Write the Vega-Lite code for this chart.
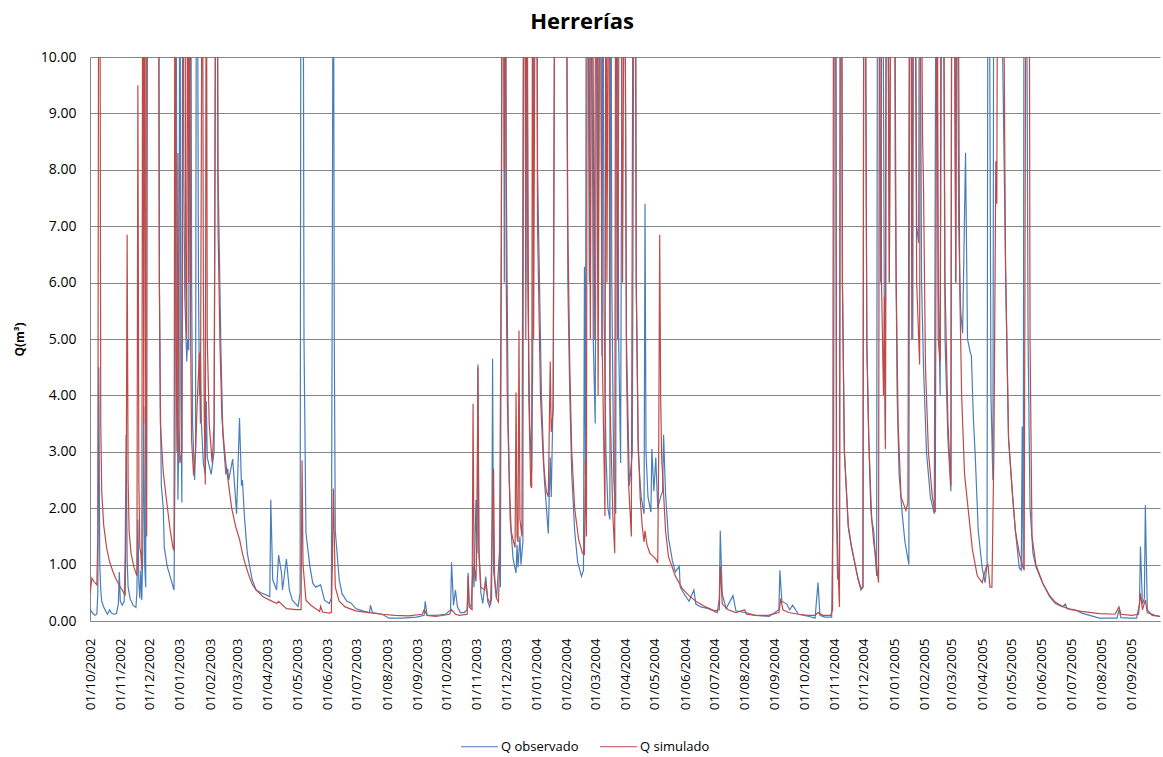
{
"$schema": "https://vega.github.io/schema/vega-lite/v6.json",
"width": 1070, "height": 564,
"autosize": {"type": "none"},
"padding": {"left": 90, "top": 57, "right": 3, "bottom": 136},
"background": "white",
"config": {"view": {"stroke": null}, "font": "Open Sans"},
"title": {"text": "Herrerías", "fontSize": 22, "fontWeight": "bold", "font": "Open Sans", "color": "#000", "offset": 16, "dx": -43, "anchor": "middle"},
"data": {"values": [
{"d":"2002-10-01","s":"Q observado","q":0.22},{"d":"2002-10-03","s":"Q observado","q":0.15},{"d":"2002-10-06","s":"Q observado","q":0.1},{"d":"2002-10-08","s":"Q observado","q":0.12},{"d":"2002-10-09","s":"Q observado","q":0.5},{"d":"2002-10-10","s":"Q observado","q":4.5},{"d":"2002-10-11","s":"Q observado","q":1.0},{"d":"2002-10-12","s":"Q observado","q":0.55},{"d":"2002-10-13","s":"Q observado","q":0.35},{"d":"2002-10-15","s":"Q observado","q":0.25},{"d":"2002-10-17","s":"Q observado","q":0.18},{"d":"2002-10-19","s":"Q observado","q":0.12},{"d":"2002-10-21","s":"Q observado","q":0.2},{"d":"2002-10-23","s":"Q observado","q":0.14},{"d":"2002-10-25","s":"Q observado","q":0.12},{"d":"2002-10-28","s":"Q observado","q":0.13},{"d":"2002-10-30","s":"Q observado","q":0.3},{"d":"2002-10-31","s":"Q observado","q":0.87},{"d":"2002-11-01","s":"Q observado","q":0.35},{"d":"2002-11-03","s":"Q observado","q":0.28},{"d":"2002-11-05","s":"Q observado","q":0.35},{"d":"2002-11-06","s":"Q observado","q":1.2},{"d":"2002-11-07","s":"Q observado","q":3.3},{"d":"2002-11-08","s":"Q observado","q":1.1},{"d":"2002-11-09","s":"Q observado","q":0.6},{"d":"2002-11-11","s":"Q observado","q":0.4},{"d":"2002-11-14","s":"Q observado","q":0.28},{"d":"2002-11-17","s":"Q observado","q":0.24},{"d":"2002-11-18","s":"Q observado","q":0.5},{"d":"2002-11-19","s":"Q observado","q":1.8},{"d":"2002-11-20","s":"Q observado","q":0.7},{"d":"2002-11-21","s":"Q observado","q":0.4},{"d":"2002-11-22","s":"Q observado","q":0.9},{"d":"2002-11-23","s":"Q observado","q":0.37},{"d":"2002-11-24","s":"Q observado","q":1.2},{"d":"2002-11-25","s":"Q observado","q":3.8},{"d":"2002-11-26","s":"Q observado","q":1.0},{"d":"2002-11-27","s":"Q observado","q":0.6},{"d":"2002-11-28","s":"Q observado","q":14},{"d":"2002-11-29","s":"Q observado","q":14},{"d":"2002-11-30","s":"Q observado","q":12},{"d":"2002-12-02","s":"Q observado","q":11},{"d":"2002-12-04","s":"Q observado","q":11},{"d":"2002-12-06","s":"Q observado","q":11.5},{"d":"2002-12-08","s":"Q observado","q":14},{"d":"2002-12-09","s":"Q observado","q":14},{"d":"2002-12-10","s":"Q observado","q":14},{"d":"2002-12-11","s":"Q observado","q":6},{"d":"2002-12-12","s":"Q observado","q":4},{"d":"2002-12-13","s":"Q observado","q":2.4},{"d":"2002-12-15","s":"Q observado","q":2.0},{"d":"2002-12-16","s":"Q observado","q":1.3},{"d":"2002-12-17","s":"Q observado","q":1.2},{"d":"2002-12-19","s":"Q observado","q":0.97},{"d":"2002-12-23","s":"Q observado","q":0.73},{"d":"2002-12-26","s":"Q observado","q":0.55},{"d":"2002-12-27","s":"Q observado","q":3},{"d":"2002-12-28","s":"Q observado","q":14},{"d":"2002-12-29","s":"Q observado","q":5},{"d":"2002-12-30","s":"Q observado","q":2.15},{"d":"2002-12-31","s":"Q observado","q":3.5},{"d":"2003-01-01","s":"Q observado","q":14},{"d":"2003-01-02","s":"Q observado","q":4},{"d":"2003-01-03","s":"Q observado","q":2.1},{"d":"2003-01-04","s":"Q observado","q":14},{"d":"2003-01-05","s":"Q observado","q":8},{"d":"2003-01-06","s":"Q observado","q":5.75},{"d":"2003-01-07","s":"Q observado","q":5.2},{"d":"2003-01-08","s":"Q observado","q":4.6},{"d":"2003-01-09","s":"Q observado","q":5.0},{"d":"2003-01-10","s":"Q observado","q":4.8},{"d":"2003-01-12","s":"Q observado","q":14},{"d":"2003-01-13","s":"Q observado","q":6},{"d":"2003-01-14","s":"Q observado","q":3.5},{"d":"2003-01-16","s":"Q observado","q":2.5},{"d":"2003-01-17","s":"Q observado","q":3},{"d":"2003-01-18","s":"Q observado","q":14},{"d":"2003-01-19","s":"Q observado","q":12},{"d":"2003-01-20","s":"Q observado","q":6},{"d":"2003-01-21","s":"Q observado","q":4},{"d":"2003-01-22","s":"Q observado","q":4.77},{"d":"2003-01-23","s":"Q observado","q":3.5},{"d":"2003-01-25","s":"Q observado","q":2.8},{"d":"2003-01-27","s":"Q observado","q":2.6},{"d":"2003-01-28","s":"Q observado","q":3.9},{"d":"2003-01-29","s":"Q observado","q":2.9},{"d":"2003-02-02","s":"Q observado","q":2.6},{"d":"2003-02-05","s":"Q observado","q":3.0},{"d":"2003-02-07","s":"Q observado","q":14},{"d":"2003-02-08","s":"Q observado","q":14},{"d":"2003-02-09","s":"Q observado","q":8},{"d":"2003-02-12","s":"Q observado","q":4.8},{"d":"2003-02-14","s":"Q observado","q":3.3},{"d":"2003-02-17","s":"Q observado","q":2.6},{"d":"2003-02-19","s":"Q observado","q":2.7},{"d":"2003-02-20","s":"Q observado","q":2.5},{"d":"2003-02-24","s":"Q observado","q":2.87},{"d":"2003-02-26","s":"Q observado","q":2.4},{"d":"2003-02-28","s":"Q observado","q":1.9},{"d":"2003-03-03","s":"Q observado","q":3.6},{"d":"2003-03-05","s":"Q observado","q":2.4},{"d":"2003-03-06","s":"Q observado","q":2.5},{"d":"2003-03-08","s":"Q observado","q":1.86},{"d":"2003-03-11","s":"Q observado","q":1.2},{"d":"2003-03-16","s":"Q observado","q":0.73},{"d":"2003-03-20","s":"Q observado","q":0.55},{"d":"2003-03-25","s":"Q observado","q":0.5},{"d":"2003-04-01","s":"Q observado","q":0.45},{"d":"2003-04-03","s":"Q observado","q":0.43},{"d":"2003-04-04","s":"Q observado","q":2.15},{"d":"2003-04-06","s":"Q observado","q":0.73},{"d":"2003-04-10","s":"Q observado","q":0.55},{"d":"2003-04-12","s":"Q observado","q":1.17},{"d":"2003-04-15","s":"Q observado","q":0.85},{"d":"2003-04-16","s":"Q observado","q":0.55},{"d":"2003-04-20","s":"Q observado","q":1.1},{"d":"2003-04-23","s":"Q observado","q":0.55},{"d":"2003-04-26","s":"Q observado","q":0.37},{"d":"2003-05-02","s":"Q observado","q":0.26},{"d":"2003-05-04","s":"Q observado","q":0.5},{"d":"2003-05-05","s":"Q observado","q":14},{"d":"2003-05-06","s":"Q observado","q":14},{"d":"2003-05-07","s":"Q observado","q":14},{"d":"2003-05-08","s":"Q observado","q":5},{"d":"2003-05-10","s":"Q observado","q":1.56},{"d":"2003-05-14","s":"Q observado","q":0.97},{"d":"2003-05-17","s":"Q observado","q":0.67},{"d":"2003-05-20","s":"Q observado","q":0.6},{"d":"2003-05-25","s":"Q observado","q":0.64},{"d":"2003-05-29","s":"Q observado","q":0.37},{"d":"2003-06-03","s":"Q observado","q":0.31},{"d":"2003-06-05","s":"Q observado","q":0.41},{"d":"2003-06-06","s":"Q observado","q":6.7},{"d":"2003-06-07","s":"Q observado","q":14},{"d":"2003-06-08","s":"Q observado","q":5},{"d":"2003-06-09","s":"Q observado","q":1.6},{"d":"2003-06-13","s":"Q observado","q":0.74},{"d":"2003-06-16","s":"Q observado","q":0.48},{"d":"2003-06-21","s":"Q observado","q":0.35},{"d":"2003-06-25","s":"Q observado","q":0.32},{"d":"2003-06-30","s":"Q observado","q":0.22},{"d":"2003-07-07","s":"Q observado","q":0.18},{"d":"2003-07-14","s":"Q observado","q":0.15},{"d":"2003-07-15","s":"Q observado","q":0.28},{"d":"2003-07-17","s":"Q observado","q":0.15},{"d":"2003-07-27","s":"Q observado","q":0.12},{"d":"2003-08-03","s":"Q observado","q":0.05},{"d":"2003-08-17","s":"Q observado","q":0.05},{"d":"2003-08-31","s":"Q observado","q":0.07},{"d":"2003-09-08","s":"Q observado","q":0.1},{"d":"2003-09-09","s":"Q observado","q":0.35},{"d":"2003-09-11","s":"Q observado","q":0.1},{"d":"2003-09-20","s":"Q observado","q":0.1},{"d":"2003-09-30","s":"Q observado","q":0.12},{"d":"2003-10-05","s":"Q observado","q":0.2},{"d":"2003-10-06","s":"Q observado","q":1.04},{"d":"2003-10-08","s":"Q observado","q":0.28},{"d":"2003-10-10","s":"Q observado","q":0.55},{"d":"2003-10-12","s":"Q observado","q":0.25},{"d":"2003-10-15","s":"Q observado","q":0.15},{"d":"2003-10-19","s":"Q observado","q":0.15},{"d":"2003-10-22","s":"Q observado","q":0.2},{"d":"2003-10-23","s":"Q observado","q":0.85},{"d":"2003-10-24","s":"Q observado","q":0.3},{"d":"2003-10-26","s":"Q observado","q":0.25},{"d":"2003-10-28","s":"Q observado","q":1.0},{"d":"2003-10-29","s":"Q observado","q":0.6},{"d":"2003-10-31","s":"Q observado","q":2.15},{"d":"2003-11-01","s":"Q observado","q":1.2},{"d":"2003-11-02","s":"Q observado","q":4.55},{"d":"2003-11-03","s":"Q observado","q":1.3},{"d":"2003-11-05","s":"Q observado","q":0.5},{"d":"2003-11-07","s":"Q observado","q":0.31},{"d":"2003-11-10","s":"Q observado","q":0.79},{"d":"2003-11-12","s":"Q observado","q":0.35},{"d":"2003-11-14","s":"Q observado","q":0.25},{"d":"2003-11-16","s":"Q observado","q":0.4},{"d":"2003-11-17","s":"Q observado","q":4.65},{"d":"2003-11-18","s":"Q observado","q":0.9},{"d":"2003-11-20","s":"Q observado","q":0.55},{"d":"2003-11-21","s":"Q observado","q":0.4},{"d":"2003-11-24","s":"Q observado","q":1.2},{"d":"2003-11-25","s":"Q observado","q":0.6},{"d":"2003-11-27","s":"Q observado","q":14},{"d":"2003-11-28","s":"Q observado","q":14},{"d":"2003-11-29","s":"Q observado","q":6},{"d":"2003-11-30","s":"Q observado","q":14},{"d":"2003-12-01","s":"Q observado","q":8},{"d":"2003-12-03","s":"Q observado","q":3.5},{"d":"2003-12-05","s":"Q observado","q":1.8},{"d":"2003-12-08","s":"Q observado","q":1.1},{"d":"2003-12-11","s":"Q observado","q":0.85},{"d":"2003-12-12","s":"Q observado","q":1.35},{"d":"2003-12-13","s":"Q observado","q":0.95},{"d":"2003-12-15","s":"Q observado","q":1.5},{"d":"2003-12-16","s":"Q observado","q":1.0},{"d":"2003-12-18","s":"Q observado","q":1.4},{"d":"2003-12-19","s":"Q observado","q":14},{"d":"2003-12-20","s":"Q observado","q":14},{"d":"2003-12-21","s":"Q observado","q":6},{"d":"2003-12-22","s":"Q observado","q":14},{"d":"2003-12-23","s":"Q observado","q":6},{"d":"2003-12-25","s":"Q observado","q":3.5},{"d":"2003-12-27","s":"Q observado","q":2.63},{"d":"2003-12-28","s":"Q observado","q":4.5},{"d":"2003-12-30","s":"Q observado","q":14},{"d":"2003-12-31","s":"Q observado","q":14},{"d":"2004-01-01","s":"Q observado","q":14},{"d":"2004-01-02","s":"Q observado","q":8},{"d":"2004-01-06","s":"Q observado","q":4},{"d":"2004-01-09","s":"Q observado","q":2.5},{"d":"2004-01-13","s":"Q observado","q":1.55},{"d":"2004-01-15","s":"Q observado","q":2.9},{"d":"2004-01-16","s":"Q observado","q":2.2},{"d":"2004-01-18","s":"Q observado","q":4.0},{"d":"2004-01-20","s":"Q observado","q":14},{"d":"2004-01-21","s":"Q observado","q":14},{"d":"2004-01-23","s":"Q observado","q":12},{"d":"2004-01-25","s":"Q observado","q":11},{"d":"2004-01-27","s":"Q observado","q":12},{"d":"2004-01-29","s":"Q observado","q":14},{"d":"2004-01-30","s":"Q observado","q":14},{"d":"2004-01-31","s":"Q observado","q":14},{"d":"2004-02-02","s":"Q observado","q":6},{"d":"2004-02-04","s":"Q observado","q":4.0},{"d":"2004-02-06","s":"Q observado","q":2.6},{"d":"2004-02-09","s":"Q observado","q":1.6},{"d":"2004-02-12","s":"Q observado","q":1.05},{"d":"2004-02-16","s":"Q observado","q":0.79},{"d":"2004-02-18","s":"Q observado","q":0.9},{"d":"2004-02-19","s":"Q observado","q":6.28},{"d":"2004-02-20","s":"Q observado","q":2.6},{"d":"2004-02-21","s":"Q observado","q":14},{"d":"2004-02-22","s":"Q observado","q":14},{"d":"2004-02-24","s":"Q observado","q":6},{"d":"2004-02-26","s":"Q observado","q":14},{"d":"2004-02-28","s":"Q observado","q":5},{"d":"2004-03-01","s":"Q observado","q":3.5},{"d":"2004-03-03","s":"Q observado","q":14},{"d":"2004-03-04","s":"Q observado","q":6},{"d":"2004-03-06","s":"Q observado","q":14},{"d":"2004-03-07","s":"Q observado","q":9.95},{"d":"2004-03-08","s":"Q observado","q":4.7},{"d":"2004-03-09","s":"Q observado","q":14},{"d":"2004-03-10","s":"Q observado","q":5.55},{"d":"2004-03-12","s":"Q observado","q":3.0},{"d":"2004-03-14","s":"Q observado","q":2.0},{"d":"2004-03-16","s":"Q observado","q":1.8},{"d":"2004-03-17","s":"Q observado","q":14},{"d":"2004-03-18","s":"Q observado","q":6},{"d":"2004-03-20","s":"Q observado","q":2.5},{"d":"2004-03-22","s":"Q observado","q":1.9},{"d":"2004-03-23","s":"Q observado","q":14},{"d":"2004-03-25","s":"Q observado","q":5},{"d":"2004-03-27","s":"Q observado","q":2.8},{"d":"2004-03-29","s":"Q observado","q":14},{"d":"2004-03-31","s":"Q observado","q":14},{"d":"2004-04-02","s":"Q observado","q":5},{"d":"2004-04-05","s":"Q observado","q":2.4},{"d":"2004-04-08","s":"Q observado","q":3},{"d":"2004-04-10","s":"Q observado","q":14},{"d":"2004-04-11","s":"Q observado","q":14},{"d":"2004-04-12","s":"Q observado","q":6},{"d":"2004-04-14","s":"Q observado","q":3.0},{"d":"2004-04-17","s":"Q observado","q":2.2},{"d":"2004-04-20","s":"Q observado","q":1.9},{"d":"2004-04-21","s":"Q observado","q":7.4},{"d":"2004-04-22","s":"Q observado","q":3.0},{"d":"2004-04-24","s":"Q observado","q":2.2},{"d":"2004-04-27","s":"Q observado","q":1.93},{"d":"2004-04-28","s":"Q observado","q":3.05},{"d":"2004-04-30","s":"Q observado","q":2.3},{"d":"2004-05-02","s":"Q observado","q":2.9},{"d":"2004-05-04","s":"Q observado","q":2.0},{"d":"2004-05-07","s":"Q observado","q":2.2},{"d":"2004-05-09","s":"Q observado","q":2.3},{"d":"2004-05-10","s":"Q observado","q":3.3},{"d":"2004-05-12","s":"Q observado","q":2.25},{"d":"2004-05-15","s":"Q observado","q":1.47},{"d":"2004-05-19","s":"Q observado","q":1.07},{"d":"2004-05-22","s":"Q observado","q":0.87},{"d":"2004-05-26","s":"Q observado","q":0.97},{"d":"2004-05-27","s":"Q observado","q":0.6},{"d":"2004-05-31","s":"Q observado","q":0.48},{"d":"2004-06-05","s":"Q observado","q":0.35},{"d":"2004-06-10","s":"Q observado","q":0.55},{"d":"2004-06-12","s":"Q observado","q":0.3},{"d":"2004-06-17","s":"Q observado","q":0.25},{"d":"2004-06-25","s":"Q observado","q":0.22},{"d":"2004-07-04","s":"Q observado","q":0.15},{"d":"2004-07-06","s":"Q observado","q":0.4},{"d":"2004-07-07","s":"Q observado","q":1.6},{"d":"2004-07-09","s":"Q observado","q":0.48},{"d":"2004-07-13","s":"Q observado","q":0.22},{"d":"2004-07-20","s":"Q observado","q":0.45},{"d":"2004-07-23","s":"Q observado","q":0.18},{"d":"2004-08-02","s":"Q observado","q":0.15},{"d":"2004-08-12","s":"Q observado","q":0.1},{"d":"2004-08-26","s":"Q observado","q":0.08},{"d":"2004-09-05","s":"Q observado","q":0.2},{"d":"2004-09-06","s":"Q observado","q":0.9},{"d":"2004-09-08","s":"Q observado","q":0.35},{"d":"2004-09-13","s":"Q observado","q":0.3},{"d":"2004-09-16","s":"Q observado","q":0.2},{"d":"2004-09-19","s":"Q observado","q":0.28},{"d":"2004-09-25","s":"Q observado","q":0.12},{"d":"2004-10-06","s":"Q observado","q":0.08},{"d":"2004-10-12","s":"Q observado","q":0.05},{"d":"2004-10-15","s":"Q observado","q":0.68},{"d":"2004-10-17","s":"Q observado","q":0.1},{"d":"2004-10-22","s":"Q observado","q":0.07},{"d":"2004-10-29","s":"Q observado","q":0.07},{"d":"2004-10-31","s":"Q observado","q":3},{"d":"2004-11-01","s":"Q observado","q":14},{"d":"2004-11-02","s":"Q observado","q":14},{"d":"2004-11-03","s":"Q observado","q":2},{"d":"2004-11-04","s":"Q observado","q":0.74},{"d":"2004-11-06","s":"Q observado","q":0.9},{"d":"2004-11-07","s":"Q observado","q":14},{"d":"2004-11-08","s":"Q observado","q":14},{"d":"2004-11-09","s":"Q observado","q":6},{"d":"2004-11-11","s":"Q observado","q":3},{"d":"2004-11-15","s":"Q observado","q":1.66},{"d":"2004-11-18","s":"Q observado","q":1.33},{"d":"2004-11-22","s":"Q observado","q":1.0},{"d":"2004-11-25","s":"Q observado","q":0.74},{"d":"2004-11-28","s":"Q observado","q":0.55},{"d":"2004-11-30","s":"Q observado","q":0.6},{"d":"2004-12-01","s":"Q observado","q":14},{"d":"2004-12-02","s":"Q observado","q":14},{"d":"2004-12-04","s":"Q observado","q":4.9},{"d":"2004-12-06","s":"Q observado","q":3.2},{"d":"2004-12-08","s":"Q observado","q":2.25},{"d":"2004-12-09","s":"Q observado","q":1.8},{"d":"2004-12-11","s":"Q observado","q":1.6},{"d":"2004-12-14","s":"Q observado","q":0.8},{"d":"2004-12-15","s":"Q observado","q":14},{"d":"2004-12-16","s":"Q observado","q":14},{"d":"2004-12-18","s":"Q observado","q":6},{"d":"2004-12-20","s":"Q observado","q":14},{"d":"2004-12-22","s":"Q observado","q":5},{"d":"2004-12-23","s":"Q observado","q":3.2},{"d":"2004-12-24","s":"Q observado","q":14},{"d":"2004-12-25","s":"Q observado","q":14},{"d":"2004-12-27","s":"Q observado","q":6},{"d":"2004-12-29","s":"Q observado","q":14},{"d":"2004-12-30","s":"Q observado","q":14},{"d":"2005-01-01","s":"Q observado","q":14},{"d":"2005-01-02","s":"Q observado","q":8},{"d":"2005-01-04","s":"Q observado","q":4},{"d":"2005-01-06","s":"Q observado","q":2.6},{"d":"2005-01-09","s":"Q observado","q":1.93},{"d":"2005-01-12","s":"Q observado","q":1.4},{"d":"2005-01-16","s":"Q observado","q":1.0},{"d":"2005-01-17","s":"Q observado","q":14},{"d":"2005-01-18","s":"Q observado","q":14},{"d":"2005-01-20","s":"Q observado","q":5},{"d":"2005-01-21","s":"Q observado","q":14},{"d":"2005-01-22","s":"Q observado","q":14},{"d":"2005-01-24","s":"Q observado","q":7},{"d":"2005-01-26","s":"Q observado","q":6.7},{"d":"2005-01-27","s":"Q observado","q":14},{"d":"2005-01-29","s":"Q observado","q":6},{"d":"2005-01-31","s":"Q observado","q":4.5},{"d":"2005-02-03","s":"Q observado","q":3.0},{"d":"2005-02-07","s":"Q observado","q":2.2},{"d":"2005-02-11","s":"Q observado","q":1.9},{"d":"2005-02-13","s":"Q observado","q":14},{"d":"2005-02-15","s":"Q observado","q":6},{"d":"2005-02-17","s":"Q observado","q":4},{"d":"2005-02-18","s":"Q observado","q":14},{"d":"2005-02-20","s":"Q observado","q":14},{"d":"2005-02-22","s":"Q observado","q":5},{"d":"2005-02-25","s":"Q observado","q":3.2},{"d":"2005-02-28","s":"Q observado","q":2.3},{"d":"2005-03-01","s":"Q observado","q":14},{"d":"2005-03-03","s":"Q observado","q":14},{"d":"2005-03-05","s":"Q observado","q":6},{"d":"2005-03-06","s":"Q observado","q":14},{"d":"2005-03-08","s":"Q observado","q":7},{"d":"2005-03-10","s":"Q observado","q":5.5},{"d":"2005-03-12","s":"Q observado","q":5.1},{"d":"2005-03-15","s":"Q observado","q":8.3},{"d":"2005-03-17","s":"Q observado","q":5},{"d":"2005-03-20","s":"Q observado","q":4.75},{"d":"2005-03-21","s":"Q observado","q":4.7},{"d":"2005-03-23","s":"Q observado","q":3.6},{"d":"2005-03-25","s":"Q observado","q":2.9},{"d":"2005-03-28","s":"Q observado","q":1.6},{"d":"2005-04-01","s":"Q observado","q":0.94},{"d":"2005-04-04","s":"Q observado","q":0.68},{"d":"2005-04-06","s":"Q observado","q":1.0},{"d":"2005-04-07","s":"Q observado","q":14},{"d":"2005-04-08","s":"Q observado","q":14},{"d":"2005-04-10","s":"Q observado","q":4},{"d":"2005-04-12","s":"Q observado","q":2.5},{"d":"2005-04-13","s":"Q observado","q":14},{"d":"2005-04-14","s":"Q observado","q":14},{"d":"2005-04-16","s":"Q observado","q":14},{"d":"2005-04-18","s":"Q observado","q":14},{"d":"2005-04-20","s":"Q observado","q":14},{"d":"2005-04-22","s":"Q observado","q":10},{"d":"2005-04-25","s":"Q observado","q":6.2},{"d":"2005-04-28","s":"Q observado","q":3.24},{"d":"2005-05-02","s":"Q observado","q":2.25},{"d":"2005-05-05","s":"Q observado","q":1.6},{"d":"2005-05-09","s":"Q observado","q":0.94},{"d":"2005-05-11","s":"Q observado","q":0.9},{"d":"2005-05-12","s":"Q observado","q":3.45},{"d":"2005-05-13","s":"Q observado","q":0.93},{"d":"2005-05-14","s":"Q observado","q":14},{"d":"2005-05-15","s":"Q observado","q":14},{"d":"2005-05-16","s":"Q observado","q":14},{"d":"2005-05-18","s":"Q observado","q":5},{"d":"2005-05-20","s":"Q observado","q":2.0},{"d":"2005-05-23","s":"Q observado","q":1.2},{"d":"2005-05-26","s":"Q observado","q":0.96},{"d":"2005-06-02","s":"Q observado","q":0.67},{"d":"2005-06-09","s":"Q observado","q":0.43},{"d":"2005-06-15","s":"Q observado","q":0.31},{"d":"2005-06-22","s":"Q observado","q":0.25},{"d":"2005-06-25","s":"Q observado","q":0.3},{"d":"2005-06-27","s":"Q observado","q":0.22},{"d":"2005-07-05","s":"Q observado","q":0.2},{"d":"2005-07-12","s":"Q observado","q":0.14},{"d":"2005-07-20","s":"Q observado","q":0.1},{"d":"2005-07-30","s":"Q observado","q":0.05},{"d":"2005-08-08","s":"Q observado","q":0.05},{"d":"2005-08-17","s":"Q observado","q":0.05},{"d":"2005-08-19","s":"Q observado","q":0.2},{"d":"2005-08-21","s":"Q observado","q":0.06},{"d":"2005-08-30","s":"Q observado","q":0.05},{"d":"2005-09-06","s":"Q observado","q":0.05},{"d":"2005-09-09","s":"Q observado","q":0.3},{"d":"2005-09-10","s":"Q observado","q":1.32},{"d":"2005-09-12","s":"Q observado","q":0.3},{"d":"2005-09-14","s":"Q observado","q":0.4},{"d":"2005-09-15","s":"Q observado","q":2.05},{"d":"2005-09-17","s":"Q observado","q":0.2},{"d":"2005-09-22","s":"Q observado","q":0.1},{"d":"2005-09-30","s":"Q observado","q":0.08},
{"d":"2002-10-01","s":"Q simulado","q":0.48},{"d":"2002-10-03","s":"Q simulado","q":0.76},{"d":"2002-10-05","s":"Q simulado","q":0.7},{"d":"2002-10-08","s":"Q simulado","q":0.64},{"d":"2002-10-09","s":"Q simulado","q":1.5},{"d":"2002-10-10","s":"Q simulado","q":14},{"d":"2002-10-11","s":"Q simulado","q":14},{"d":"2002-10-12","s":"Q simulado","q":3.5},{"d":"2002-10-13","s":"Q simulado","q":2.3},{"d":"2002-10-15","s":"Q simulado","q":1.7},{"d":"2002-10-18","s":"Q simulado","q":1.3},{"d":"2002-10-21","s":"Q simulado","q":1.05},{"d":"2002-10-25","s":"Q simulado","q":0.85},{"d":"2002-10-28","s":"Q simulado","q":0.73},{"d":"2002-11-01","s":"Q simulado","q":0.6},{"d":"2002-11-03","s":"Q simulado","q":0.55},{"d":"2002-11-06","s":"Q simulado","q":0.45},{"d":"2002-11-07","s":"Q simulado","q":2.0},{"d":"2002-11-08","s":"Q simulado","q":6.85},{"d":"2002-11-09","s":"Q simulado","q":2.5},{"d":"2002-11-10","s":"Q simulado","q":1.6},{"d":"2002-11-12","s":"Q simulado","q":1.2},{"d":"2002-11-15","s":"Q simulado","q":0.95},{"d":"2002-11-18","s":"Q simulado","q":0.8},{"d":"2002-11-19","s":"Q simulado","q":9.5},{"d":"2002-11-20","s":"Q simulado","q":2.5},{"d":"2002-11-21","s":"Q simulado","q":1.3},{"d":"2002-11-22","s":"Q simulado","q":1.2},{"d":"2002-11-23","s":"Q simulado","q":0.9},{"d":"2002-11-24","s":"Q simulado","q":14},{"d":"2002-11-25","s":"Q simulado","q":3.5},{"d":"2002-11-26","s":"Q simulado","q":14},{"d":"2002-11-27","s":"Q simulado","q":3},{"d":"2002-11-28","s":"Q simulado","q":1.5},{"d":"2002-11-29","s":"Q simulado","q":14},{"d":"2002-11-30","s":"Q simulado","q":14},{"d":"2002-12-02","s":"Q simulado","q":12},{"d":"2002-12-05","s":"Q simulado","q":11},{"d":"2002-12-08","s":"Q simulado","q":14},{"d":"2002-12-09","s":"Q simulado","q":14},{"d":"2002-12-10","s":"Q simulado","q":14},{"d":"2002-12-11","s":"Q simulado","q":6},{"d":"2002-12-12","s":"Q simulado","q":3.5},{"d":"2002-12-15","s":"Q simulado","q":2.63},{"d":"2002-12-19","s":"Q simulado","q":2.04},{"d":"2002-12-22","s":"Q simulado","q":1.62},{"d":"2002-12-25","s":"Q simulado","q":1.29},{"d":"2002-12-26","s":"Q simulado","q":1.26},{"d":"2002-12-27","s":"Q simulado","q":14},{"d":"2002-12-28","s":"Q simulado","q":5},{"d":"2002-12-29","s":"Q simulado","q":3},{"d":"2002-12-30","s":"Q simulado","q":8.3},{"d":"2002-12-31","s":"Q simulado","q":3.5},{"d":"2003-01-01","s":"Q simulado","q":2.8},{"d":"2003-01-03","s":"Q simulado","q":3.0},{"d":"2003-01-05","s":"Q simulado","q":14},{"d":"2003-01-06","s":"Q simulado","q":14},{"d":"2003-01-07","s":"Q simulado","q":6},{"d":"2003-01-08","s":"Q simulado","q":5},{"d":"2003-01-09","s":"Q simulado","q":14},{"d":"2003-01-10","s":"Q simulado","q":6},{"d":"2003-01-11","s":"Q simulado","q":14},{"d":"2003-01-12","s":"Q simulado","q":5},{"d":"2003-01-13","s":"Q simulado","q":3.2},{"d":"2003-01-15","s":"Q simulado","q":2.58},{"d":"2003-01-17","s":"Q simulado","q":3.0},{"d":"2003-01-19","s":"Q simulado","q":4.0},{"d":"2003-01-21","s":"Q simulado","q":4.75},{"d":"2003-01-22","s":"Q simulado","q":3.5},{"d":"2003-01-24","s":"Q simulado","q":14},{"d":"2003-01-25","s":"Q simulado","q":6},{"d":"2003-01-26","s":"Q simulado","q":3.5},{"d":"2003-01-27","s":"Q simulado","q":2.42},{"d":"2003-01-28","s":"Q simulado","q":14},{"d":"2003-01-29","s":"Q simulado","q":5},{"d":"2003-01-31","s":"Q simulado","q":3.5},{"d":"2003-02-03","s":"Q simulado","q":2.8},{"d":"2003-02-05","s":"Q simulado","q":3.5},{"d":"2003-02-07","s":"Q simulado","q":14},{"d":"2003-02-08","s":"Q simulado","q":14},{"d":"2003-02-09","s":"Q simulado","q":7},{"d":"2003-02-11","s":"Q simulado","q":4.9},{"d":"2003-02-13","s":"Q simulado","q":3.6},{"d":"2003-02-15","s":"Q simulado","q":3.16},{"d":"2003-02-17","s":"Q simulado","q":2.8},{"d":"2003-02-20","s":"Q simulado","q":2.4},{"d":"2003-02-23","s":"Q simulado","q":2.0},{"d":"2003-02-27","s":"Q simulado","q":1.68},{"d":"2003-03-03","s":"Q simulado","q":1.45},{"d":"2003-03-06","s":"Q simulado","q":1.2},{"d":"2003-03-09","s":"Q simulado","q":1.0},{"d":"2003-03-13","s":"Q simulado","q":0.79},{"d":"2003-03-16","s":"Q simulado","q":0.65},{"d":"2003-03-20","s":"Q simulado","q":0.55},{"d":"2003-03-27","s":"Q simulado","q":0.43},{"d":"2003-04-03","s":"Q simulado","q":0.37},{"d":"2003-04-10","s":"Q simulado","q":0.31},{"d":"2003-04-12","s":"Q simulado","q":0.35},{"d":"2003-04-20","s":"Q simulado","q":0.22},{"d":"2003-04-30","s":"Q simulado","q":0.2},{"d":"2003-05-05","s":"Q simulado","q":0.2},{"d":"2003-05-06","s":"Q simulado","q":2.85},{"d":"2003-05-07","s":"Q simulado","q":1.0},{"d":"2003-05-10","s":"Q simulado","q":0.37},{"d":"2003-05-15","s":"Q simulado","q":0.28},{"d":"2003-05-24","s":"Q simulado","q":0.17},{"d":"2003-05-25","s":"Q simulado","q":0.26},{"d":"2003-05-27","s":"Q simulado","q":0.16},{"d":"2003-06-03","s":"Q simulado","q":0.14},{"d":"2003-06-05","s":"Q simulado","q":0.15},{"d":"2003-06-06","s":"Q simulado","q":1.0},{"d":"2003-06-07","s":"Q simulado","q":2.35},{"d":"2003-06-09","s":"Q simulado","q":0.6},{"d":"2003-06-13","s":"Q simulado","q":0.35},{"d":"2003-06-19","s":"Q simulado","q":0.25},{"d":"2003-06-30","s":"Q simulado","q":0.18},{"d":"2003-07-13","s":"Q simulado","q":0.15},{"d":"2003-07-27","s":"Q simulado","q":0.12},{"d":"2003-08-09","s":"Q simulado","q":0.1},{"d":"2003-08-23","s":"Q simulado","q":0.09},{"d":"2003-09-06","s":"Q simulado","q":0.12},{"d":"2003-09-08","s":"Q simulado","q":0.2},{"d":"2003-09-11","s":"Q simulado","q":0.1},{"d":"2003-09-20","s":"Q simulado","q":0.08},{"d":"2003-10-04","s":"Q simulado","q":0.12},{"d":"2003-10-06","s":"Q simulado","q":0.2},{"d":"2003-10-10","s":"Q simulado","q":0.12},{"d":"2003-10-14","s":"Q simulado","q":0.1},{"d":"2003-10-22","s":"Q simulado","q":0.12},{"d":"2003-10-23","s":"Q simulado","q":0.8},{"d":"2003-10-24","s":"Q simulado","q":0.25},{"d":"2003-10-27","s":"Q simulado","q":0.2},{"d":"2003-10-28","s":"Q simulado","q":3.85},{"d":"2003-10-29","s":"Q simulado","q":1.0},{"d":"2003-10-31","s":"Q simulado","q":0.7},{"d":"2003-11-01","s":"Q simulado","q":1.5},{"d":"2003-11-02","s":"Q simulado","q":4.5},{"d":"2003-11-03","s":"Q simulado","q":1.2},{"d":"2003-11-05","s":"Q simulado","q":0.6},{"d":"2003-11-09","s":"Q simulado","q":0.55},{"d":"2003-11-10","s":"Q simulado","q":0.7},{"d":"2003-11-12","s":"Q simulado","q":0.4},{"d":"2003-11-15","s":"Q simulado","q":0.3},{"d":"2003-11-18","s":"Q simulado","q":2.7},{"d":"2003-11-19","s":"Q simulado","q":0.8},{"d":"2003-11-21","s":"Q simulado","q":0.4},{"d":"2003-11-23","s":"Q simulado","q":0.34},{"d":"2003-11-24","s":"Q simulado","q":0.9},{"d":"2003-11-26","s":"Q simulado","q":6.86},{"d":"2003-11-27","s":"Q simulado","q":14},{"d":"2003-11-28","s":"Q simulado","q":14},{"d":"2003-11-29","s":"Q simulado","q":8},{"d":"2003-11-30","s":"Q simulado","q":14},{"d":"2003-12-01","s":"Q simulado","q":6},{"d":"2003-12-02","s":"Q simulado","q":4},{"d":"2003-12-04","s":"Q simulado","q":2.5},{"d":"2003-12-06","s":"Q simulado","q":1.6},{"d":"2003-12-08","s":"Q simulado","q":1.44},{"d":"2003-12-10","s":"Q simulado","q":1.3},{"d":"2003-12-11","s":"Q simulado","q":4.05},{"d":"2003-12-12","s":"Q simulado","q":1.5},{"d":"2003-12-13","s":"Q simulado","q":1.4},{"d":"2003-12-14","s":"Q simulado","q":5.15},{"d":"2003-12-15","s":"Q simulado","q":1.8},{"d":"2003-12-17","s":"Q simulado","q":1.5},{"d":"2003-12-19","s":"Q simulado","q":14},{"d":"2003-12-20","s":"Q simulado","q":14},{"d":"2003-12-21","s":"Q simulado","q":5},{"d":"2003-12-22","s":"Q simulado","q":14},{"d":"2003-12-23","s":"Q simulado","q":8.85},{"d":"2003-12-24","s":"Q simulado","q":4},{"d":"2003-12-26","s":"Q simulado","q":2.4},{"d":"2003-12-27","s":"Q simulado","q":2.36},{"d":"2003-12-28","s":"Q simulado","q":14},{"d":"2003-12-29","s":"Q simulado","q":5},{"d":"2003-12-31","s":"Q simulado","q":14},{"d":"2004-01-01","s":"Q simulado","q":14},{"d":"2004-01-02","s":"Q simulado","q":7},{"d":"2004-01-05","s":"Q simulado","q":4.0},{"d":"2004-01-08","s":"Q simulado","q":2.8},{"d":"2004-01-11","s":"Q simulado","q":2.3},{"d":"2004-01-13","s":"Q simulado","q":2.2},{"d":"2004-01-15","s":"Q simulado","q":4.6},{"d":"2004-01-16","s":"Q simulado","q":3.35},{"d":"2004-01-18","s":"Q simulado","q":3.75},{"d":"2004-01-20","s":"Q simulado","q":14},{"d":"2004-01-21","s":"Q simulado","q":14},{"d":"2004-01-23","s":"Q simulado","q":12},{"d":"2004-01-25","s":"Q simulado","q":11},{"d":"2004-01-27","s":"Q simulado","q":14},{"d":"2004-01-28","s":"Q simulado","q":12},{"d":"2004-01-30","s":"Q simulado","q":14},{"d":"2004-01-31","s":"Q simulado","q":14},{"d":"2004-02-02","s":"Q simulado","q":7},{"d":"2004-02-04","s":"Q simulado","q":4.5},{"d":"2004-02-06","s":"Q simulado","q":3.0},{"d":"2004-02-09","s":"Q simulado","q":2.0},{"d":"2004-02-13","s":"Q simulado","q":1.45},{"d":"2004-02-17","s":"Q simulado","q":1.2},{"d":"2004-02-19","s":"Q simulado","q":1.18},{"d":"2004-02-20","s":"Q simulado","q":2.87},{"d":"2004-02-21","s":"Q simulado","q":1.5},{"d":"2004-02-22","s":"Q simulado","q":14},{"d":"2004-02-23","s":"Q simulado","q":14},{"d":"2004-02-25","s":"Q simulado","q":5},{"d":"2004-02-27","s":"Q simulado","q":14},{"d":"2004-02-29","s":"Q simulado","q":5},{"d":"2004-03-02","s":"Q simulado","q":14},{"d":"2004-03-04","s":"Q simulado","q":4},{"d":"2004-03-06","s":"Q simulado","q":14},{"d":"2004-03-08","s":"Q simulado","q":5},{"d":"2004-03-11","s":"Q simulado","q":1.86},{"d":"2004-03-12","s":"Q simulado","q":14},{"d":"2004-03-13","s":"Q simulado","q":6},{"d":"2004-03-15","s":"Q simulado","q":14},{"d":"2004-03-16","s":"Q simulado","q":4},{"d":"2004-03-19","s":"Q simulado","q":1.9},{"d":"2004-03-21","s":"Q simulado","q":1.2},{"d":"2004-03-22","s":"Q simulado","q":14},{"d":"2004-03-24","s":"Q simulado","q":5},{"d":"2004-03-26","s":"Q simulado","q":14},{"d":"2004-03-27","s":"Q simulado","q":14},{"d":"2004-03-29","s":"Q simulado","q":6},{"d":"2004-03-31","s":"Q simulado","q":14},{"d":"2004-04-02","s":"Q simulado","q":4.5},{"d":"2004-04-04","s":"Q simulado","q":2.5},{"d":"2004-04-07","s":"Q simulado","q":1.5},{"d":"2004-04-09","s":"Q simulado","q":14},{"d":"2004-04-10","s":"Q simulado","q":14},{"d":"2004-04-11","s":"Q simulado","q":14},{"d":"2004-04-12","s":"Q simulado","q":6},{"d":"2004-04-14","s":"Q simulado","q":3.2},{"d":"2004-04-16","s":"Q simulado","q":2.2},{"d":"2004-04-18","s":"Q simulado","q":1.7},{"d":"2004-04-20","s":"Q simulado","q":1.4},{"d":"2004-04-21","s":"Q simulado","q":1.6},{"d":"2004-04-23","s":"Q simulado","q":1.35},{"d":"2004-04-26","s":"Q simulado","q":1.2},{"d":"2004-04-29","s":"Q simulado","q":1.15},{"d":"2004-05-02","s":"Q simulado","q":1.1},{"d":"2004-05-04","s":"Q simulado","q":1.03},{"d":"2004-05-05","s":"Q simulado","q":3},{"d":"2004-05-06","s":"Q simulado","q":6.85},{"d":"2004-05-07","s":"Q simulado","q":4},{"d":"2004-05-08","s":"Q simulado","q":2.9},{"d":"2004-05-12","s":"Q simulado","q":1.6},{"d":"2004-05-15","s":"Q simulado","q":1.14},{"d":"2004-05-22","s":"Q simulado","q":0.8},{"d":"2004-05-29","s":"Q simulado","q":0.58},{"d":"2004-06-05","s":"Q simulado","q":0.45},{"d":"2004-06-12","s":"Q simulado","q":0.35},{"d":"2004-06-22","s":"Q simulado","q":0.25},{"d":"2004-07-01","s":"Q simulado","q":0.18},{"d":"2004-07-06","s":"Q simulado","q":0.2},{"d":"2004-07-07","s":"Q simulado","q":0.97},{"d":"2004-07-09","s":"Q simulado","q":0.3},{"d":"2004-07-15","s":"Q simulado","q":0.2},{"d":"2004-07-23","s":"Q simulado","q":0.15},{"d":"2004-08-01","s":"Q simulado","q":0.2},{"d":"2004-08-03","s":"Q simulado","q":0.12},{"d":"2004-08-12","s":"Q simulado","q":0.1},{"d":"2004-08-25","s":"Q simulado","q":0.1},{"d":"2004-09-05","s":"Q simulado","q":0.15},{"d":"2004-09-07","s":"Q simulado","q":0.4},{"d":"2004-09-09","s":"Q simulado","q":0.2},{"d":"2004-09-15","s":"Q simulado","q":0.15},{"d":"2004-09-25","s":"Q simulado","q":0.12},{"d":"2004-10-05","s":"Q simulado","q":0.1},{"d":"2004-10-12","s":"Q simulado","q":0.1},{"d":"2004-10-15","s":"Q simulado","q":0.15},{"d":"2004-10-20","s":"Q simulado","q":0.1},{"d":"2004-10-28","s":"Q simulado","q":0.1},{"d":"2004-10-30","s":"Q simulado","q":0.2},{"d":"2004-10-31","s":"Q simulado","q":14},{"d":"2004-11-01","s":"Q simulado","q":14},{"d":"2004-11-02","s":"Q simulado","q":14},{"d":"2004-11-03","s":"Q simulado","q":2},{"d":"2004-11-05","s":"Q simulado","q":0.7},{"d":"2004-11-06","s":"Q simulado","q":0.25},{"d":"2004-11-07","s":"Q simulado","q":14},{"d":"2004-11-08","s":"Q simulado","q":14},{"d":"2004-11-09","s":"Q simulado","q":6},{"d":"2004-11-11","s":"Q simulado","q":3},{"d":"2004-11-15","s":"Q simulado","q":1.7},{"d":"2004-11-18","s":"Q simulado","q":1.35},{"d":"2004-11-22","s":"Q simulado","q":1.0},{"d":"2004-11-25","s":"Q simulado","q":0.75},{"d":"2004-11-28","s":"Q simulado","q":0.58},{"d":"2004-11-30","s":"Q simulado","q":0.6},{"d":"2004-12-01","s":"Q simulado","q":14},{"d":"2004-12-02","s":"Q simulado","q":14},{"d":"2004-12-04","s":"Q simulado","q":4.9},{"d":"2004-12-06","s":"Q simulado","q":3.2},{"d":"2004-12-08","s":"Q simulado","q":2.0},{"d":"2004-12-11","s":"Q simulado","q":1.4},{"d":"2004-12-16","s":"Q simulado","q":0.68},{"d":"2004-12-17","s":"Q simulado","q":14},{"d":"2004-12-18","s":"Q simulado","q":14},{"d":"2004-12-19","s":"Q simulado","q":6},{"d":"2004-12-21","s":"Q simulado","q":4},{"d":"2004-12-22","s":"Q simulado","q":5.75},{"d":"2004-12-23","s":"Q simulado","q":3.05},{"d":"2004-12-24","s":"Q simulado","q":14},{"d":"2004-12-25","s":"Q simulado","q":14},{"d":"2004-12-27","s":"Q simulado","q":6},{"d":"2004-12-29","s":"Q simulado","q":14},{"d":"2004-12-30","s":"Q simulado","q":14},{"d":"2005-01-01","s":"Q simulado","q":14},{"d":"2005-01-03","s":"Q simulado","q":6},{"d":"2005-01-05","s":"Q simulado","q":3.5},{"d":"2005-01-08","s":"Q simulado","q":2.2},{"d":"2005-01-13","s":"Q simulado","q":1.96},{"d":"2005-01-15","s":"Q simulado","q":2.1},{"d":"2005-01-17","s":"Q simulado","q":14},{"d":"2005-01-18","s":"Q simulado","q":14},{"d":"2005-01-19","s":"Q simulado","q":5},{"d":"2005-01-21","s":"Q simulado","q":14},{"d":"2005-01-22","s":"Q simulado","q":14},{"d":"2005-01-24","s":"Q simulado","q":6},{"d":"2005-01-27","s":"Q simulado","q":4.55},{"d":"2005-01-28","s":"Q simulado","q":14},{"d":"2005-01-30","s":"Q simulado","q":8.6},{"d":"2005-01-31","s":"Q simulado","q":7.7},{"d":"2005-02-02","s":"Q simulado","q":4.5},{"d":"2005-02-05","s":"Q simulado","q":3.0},{"d":"2005-02-09","s":"Q simulado","q":2.2},{"d":"2005-02-12","s":"Q simulado","q":1.93},{"d":"2005-02-14","s":"Q simulado","q":14},{"d":"2005-02-15","s":"Q simulado","q":5},{"d":"2005-02-17","s":"Q simulado","q":4.6},{"d":"2005-02-19","s":"Q simulado","q":14},{"d":"2005-02-20","s":"Q simulado","q":14},{"d":"2005-02-22","s":"Q simulado","q":6},{"d":"2005-02-25","s":"Q simulado","q":3.5},{"d":"2005-02-28","s":"Q simulado","q":2.4},{"d":"2005-03-01","s":"Q simulado","q":14},{"d":"2005-03-03","s":"Q simulado","q":14},{"d":"2005-03-05","s":"Q simulado","q":6},{"d":"2005-03-06","s":"Q simulado","q":14},{"d":"2005-03-07","s":"Q simulado","q":14},{"d":"2005-03-09","s":"Q simulado","q":6},{"d":"2005-03-11","s":"Q simulado","q":4},{"d":"2005-03-14","s":"Q simulado","q":2.6},{"d":"2005-03-18","s":"Q simulado","q":1.93},{"d":"2005-03-22","s":"Q simulado","q":1.27},{"d":"2005-03-27","s":"Q simulado","q":0.8},{"d":"2005-04-01","s":"Q simulado","q":0.68},{"d":"2005-04-05","s":"Q simulado","q":0.95},{"d":"2005-04-07","s":"Q simulado","q":1.0},{"d":"2005-04-09","s":"Q simulado","q":0.6},{"d":"2005-04-11","s":"Q simulado","q":0.6},{"d":"2005-04-13","s":"Q simulado","q":3},{"d":"2005-04-15","s":"Q simulado","q":8.15},{"d":"2005-04-16","s":"Q simulado","q":7.4},{"d":"2005-04-17","s":"Q simulado","q":14},{"d":"2005-04-18","s":"Q simulado","q":14},{"d":"2005-04-20","s":"Q simulado","q":14},{"d":"2005-04-22","s":"Q simulado","q":14},{"d":"2005-04-25","s":"Q simulado","q":6.2},{"d":"2005-04-28","s":"Q simulado","q":3.24},{"d":"2005-05-02","s":"Q simulado","q":2.25},{"d":"2005-05-05","s":"Q simulado","q":1.6},{"d":"2005-05-09","s":"Q simulado","q":1.2},{"d":"2005-05-12","s":"Q simulado","q":1.0},{"d":"2005-05-14","s":"Q simulado","q":0.9},{"d":"2005-05-16","s":"Q simulado","q":14},{"d":"2005-05-17","s":"Q simulado","q":14},{"d":"2005-05-18","s":"Q simulado","q":14},{"d":"2005-05-19","s":"Q simulado","q":14},{"d":"2005-05-20","s":"Q simulado","q":5},{"d":"2005-05-22","s":"Q simulado","q":1.5},{"d":"2005-05-26","s":"Q simulado","q":1.0},{"d":"2005-06-02","s":"Q simulado","q":0.67},{"d":"2005-06-09","s":"Q simulado","q":0.45},{"d":"2005-06-15","s":"Q simulado","q":0.33},{"d":"2005-06-22","s":"Q simulado","q":0.26},{"d":"2005-07-01","s":"Q simulado","q":0.2},{"d":"2005-07-12","s":"Q simulado","q":0.17},{"d":"2005-07-30","s":"Q simulado","q":0.13},{"d":"2005-08-15","s":"Q simulado","q":0.12},{"d":"2005-08-19","s":"Q simulado","q":0.25},{"d":"2005-08-21","s":"Q simulado","q":0.12},{"d":"2005-09-01","s":"Q simulado","q":0.1},{"d":"2005-09-08","s":"Q simulado","q":0.12},{"d":"2005-09-10","s":"Q simulado","q":0.49},{"d":"2005-09-12","s":"Q simulado","q":0.2},{"d":"2005-09-15","s":"Q simulado","q":0.37},{"d":"2005-09-17","s":"Q simulado","q":0.15},{"d":"2005-09-25","s":"Q simulado","q":0.1},{"d":"2005-09-30","s":"Q simulado","q":0.08}
]},
"mark": {"type": "line", "clip": true, "strokeWidth": 1.2},
"encoding": {
"x": {"field": "d", "type": "temporal", "scale": {"type": "utc", "domain": [{"year": 2002, "month": 10, "date": 1, "utc": true}, {"year": 2005, "month": 9, "date": 30, "utc": true}]}, "axis": {"title": null, "format": "%d/%m/%Y", "tickCount": {"interval": "month", "step": 1}, "labelAngle": -90, "labelOverlap": false, "labelFlush": false, "labelBound": false, "labelFontSize": 13.5, "labelColor": "#000", "labelPadding": 17, "ticks": false, "grid": false, "domainColor": "#868686"}},
"y": {"field": "q", "type": "quantitative", "scale": {"domain": [0, 10], "nice": false}, "axis": {"title": "Q(m³)", "values": [0,1,2,3,4,5,6,7,8,9,10], "format": ".2f", "grid": true, "gridColor": "#868686", "ticks": false, "domainColor": "#868686", "labelFontSize": 14, "labelPadding": 14, "titleFontSize": 12, "titleFontWeight": "bold", "titlePadding": 14, "labelColor": "#000", "titleColor": "#000"}},
"color": {"field": "s", "type": "nominal", "scale": {"domain": ["Q observado", "Q simulado"], "range": ["#4A7EBB", "#BE4B48"]}, "legend": {"title": null, "orient": "none", "legendX": 370, "legendY": 670, "direction": "horizontal", "symbolType": "stroke", "symbolSize": 1369, "symbolStrokeWidth": 1.2, "labelFontSize": 13, "labelOffset": 2, "columnPadding": 18, "labelColor": "#000"}}
}
}
